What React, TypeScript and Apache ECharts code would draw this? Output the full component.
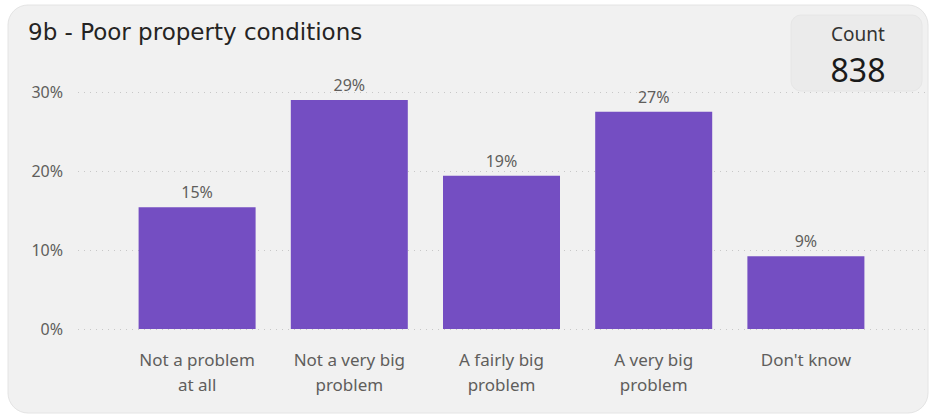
import React, { useEffect, useRef } from "react";
import * as echarts from "echarts";

const categories = ["Not a problem\nat all", "Not a very big\nproblem", "A fairly big\nproblem", "A very big\nproblem", "Don't know"];
const values = [15.4, 29.0, 19.4, 27.5, 9.2];
const labels = ["15%", "29%", "19%", "27%", "9%"];
const yTicks = [0, 10, 20, 30];
const title = "9b - Poor property conditions";
const countLabel = "Count";
const countValue = "838";

export default function App() {
  const ref = useRef<HTMLDivElement>(null);
  useEffect(() => {
    const chart = echarts.init(ref.current!, undefined, { renderer: "svg" });
    const yMax = yTicks[yTicks.length - 1];
    chart.setOption({
      animation: false,
      backgroundColor: "#ffffff",
      graphic: [
        {
          type: "rect",
          z: -10,
          shape: { x: 8, y: 5, width: 920, height: 408, r: 20 },
          style: { fill: "#f1f1f1", stroke: "#e4e4e4", lineWidth: 1 },
        },
        {
          type: "text",
          x: 28,
          y: 32,
          style: {
            text: title,
            font: "23px 'DejaVu Sans'",
            fill: "#252423",
            verticalAlign: "middle",
            align: "left",
          },
        },
        {
          type: "rect",
          z: 10,
          shape: { x: 791, y: 15, width: 131, height: 76, r: 10 },
          style: { fill: "#ebebeb", stroke: "#e6e6e6" },
        },
        {
          type: "text",
          z: 11,
          x: 858,
          y: 34,
          style: { text: countLabel, font: "19px 'Noto Sans'", fill: "#333333", align: "center", verticalAlign: "middle" },
        },
        {
          type: "text",
          z: 11,
          x: 858,
          y: 69,
          style: { text: countValue, font: "32px 'Noto Sans'", fill: "#1a1a1a", align: "center", verticalAlign: "middle" },
        },
      ],
      grid: [
        { left: 78, right: 4, top: 92, bottom: 87 },
        { left: 121, right: 48, top: 92, bottom: 87 },
      ],
      xAxis: [
        { type: "value", gridIndex: 0, show: false, min: 0, max: 1 },
        {
          type: "category",
          gridIndex: 1,
          data: categories,
          axisLine: { show: false },
          axisTick: { show: false },
          axisLabel: {
            color: "#605e5c",
            fontFamily: "'Noto Sans'",
            fontSize: 17,
            lineHeight: 25,
            margin: 18,
            interval: 0,
          },
        },
      ],
      yAxis: [
        {
          type: "value",
          gridIndex: 0,
          min: 0,
          max: yMax,
          interval: 10,
          axisLine: { show: false },
          axisTick: { show: false },
          axisLabel: {
            formatter: "{value}%",
            color: "#605e5c",
            fontFamily: "'Noto Sans'",
            fontSize: 16,
            margin: 15,
          },
          splitLine: { lineStyle: { color: "#c8c8c8", type: [1, 5], width: 1 } },
        },
        {
          type: "value",
          gridIndex: 1,
          min: 0,
          max: yMax,
          interval: 10,
          show: false,
          splitLine: { show: false },
        },
      ],
      series: [
        {
          type: "bar",
          xAxisIndex: 1,
          yAxisIndex: 1,
          data: values,
          barWidth: 117,
          itemStyle: { color: "#744ec2" },
          label: {
            show: true,
            position: "top",
            distance: 7,
            color: "#605e5c",
            fontFamily: "'Noto Sans'",
            fontSize: 16,
            formatter: (p: any) => labels[p.dataIndex],
          },
        },
      ],
    });
    return () => chart.dispose();
  }, []);
  return (
    <div
      ref={ref}
      style={{ position: "fixed", left: 0, top: 0, width: 930, height: 416 }}
    />
  );
}
